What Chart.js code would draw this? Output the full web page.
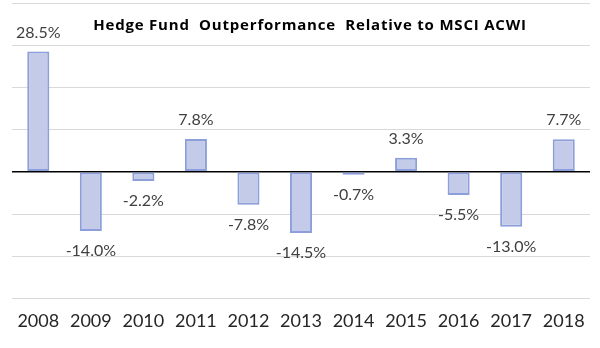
<!DOCTYPE html>
<html>
<head>
<meta charset="utf-8">
<script src="https://cdn.jsdelivr.net/npm/chart.js@4"></script>
<style>
  html, body { margin: 0; padding: 0; background: #fff; }
  #wrap { width: 600px; height: 348px; position: relative; }
</style>
</head>
<body>
<div id="wrap"><canvas id="chart"></canvas></div>
<script>
// Hedge fund excess return vs MSCI ACWI, by year (%)
const years = ['2008', '2009', '2010', '2011', '2012', '2013', '2014', '2015', '2016', '2017', '2018'];
const outperformance = [28.5, -14.0, -2.2, 7.8, -7.8, -14.5, -0.7, 3.3, -5.5, -13.0, 7.7];
const titleText = 'Hedge Fund  Outperformance  Relative to MSCI ACWI';

// value labels above positive bars, below negative ones
const valueLabels = {
    id: 'valueLabels',
    afterDatasetsDraw(chart) {
        const { ctx } = chart;
        const meta = chart.getDatasetMeta(0);
        ctx.save();
        ctx.font = '16px Lato';
        ctx.fillStyle = '#404040';
        ctx.textAlign = 'center';
        ctx.textBaseline = 'middle';
        meta.data.forEach((bar, i) => {
            const v = outperformance[i];
            const y = v >= 0 ? bar.y - 19 : bar.y + 20;
            ctx.fillText(v.toFixed(1) + '%', bar.x, y);
        });
        ctx.restore();
    }
};

// title sits inside the plot area, on top of the grid
const chartTitle = {
    id: 'chartTitle',
    afterDraw(chart) {
        const { ctx } = chart;
        ctx.save();
        ctx.font = 'bold 15px "Open Sans"';
        ctx.letterSpacing = '0.8px';
        ctx.fillStyle = '#000';
        ctx.textAlign = 'center';
        ctx.textBaseline = 'middle';
        ctx.fillText(titleText, 310, 26);
        ctx.restore();
    }
};

new Chart(document.getElementById('chart'), {
    type: 'bar',
    data: {
        labels: years,
        datasets: [{
            data: outperformance,
            backgroundColor: '#c3cbe9',
            borderColor: '#8c9fdb',
            borderWidth: 2,
            borderSkipped: false,
            barPercentage: 0.42,
            categoryPercentage: 1
        }]
    },
    options: {
        responsive: true, maintainAspectRatio: false, animation: false,
        layout: { padding: { left: 12, right: 10, top: 3, bottom: 4 } },
        plugins: { legend: { display: false }, tooltip: { enabled: false }, title: { display: false } },
        scales: {
            x: {
                grid: { display: false, drawTicks: false },
                border: { display: false },
                ticks: { color: '#262626', font: { family: 'Lato', size: 18 }, padding: 12 }
            },
            y: {
                min: -30, max: 40,
                ticks: { display: false, stepSize: 10 },
                border: { display: false },
                grid: {
                    drawTicks: false,
                    color: c => c.tick.value === 0 ? '#000' : '#d9d9d9',
                    lineWidth: c => c.tick.value === 0 ? 1.5 : 1
                }
            }
        }
    },
    plugins: [valueLabels, chartTitle]
});
</script>
</body>
</html>
